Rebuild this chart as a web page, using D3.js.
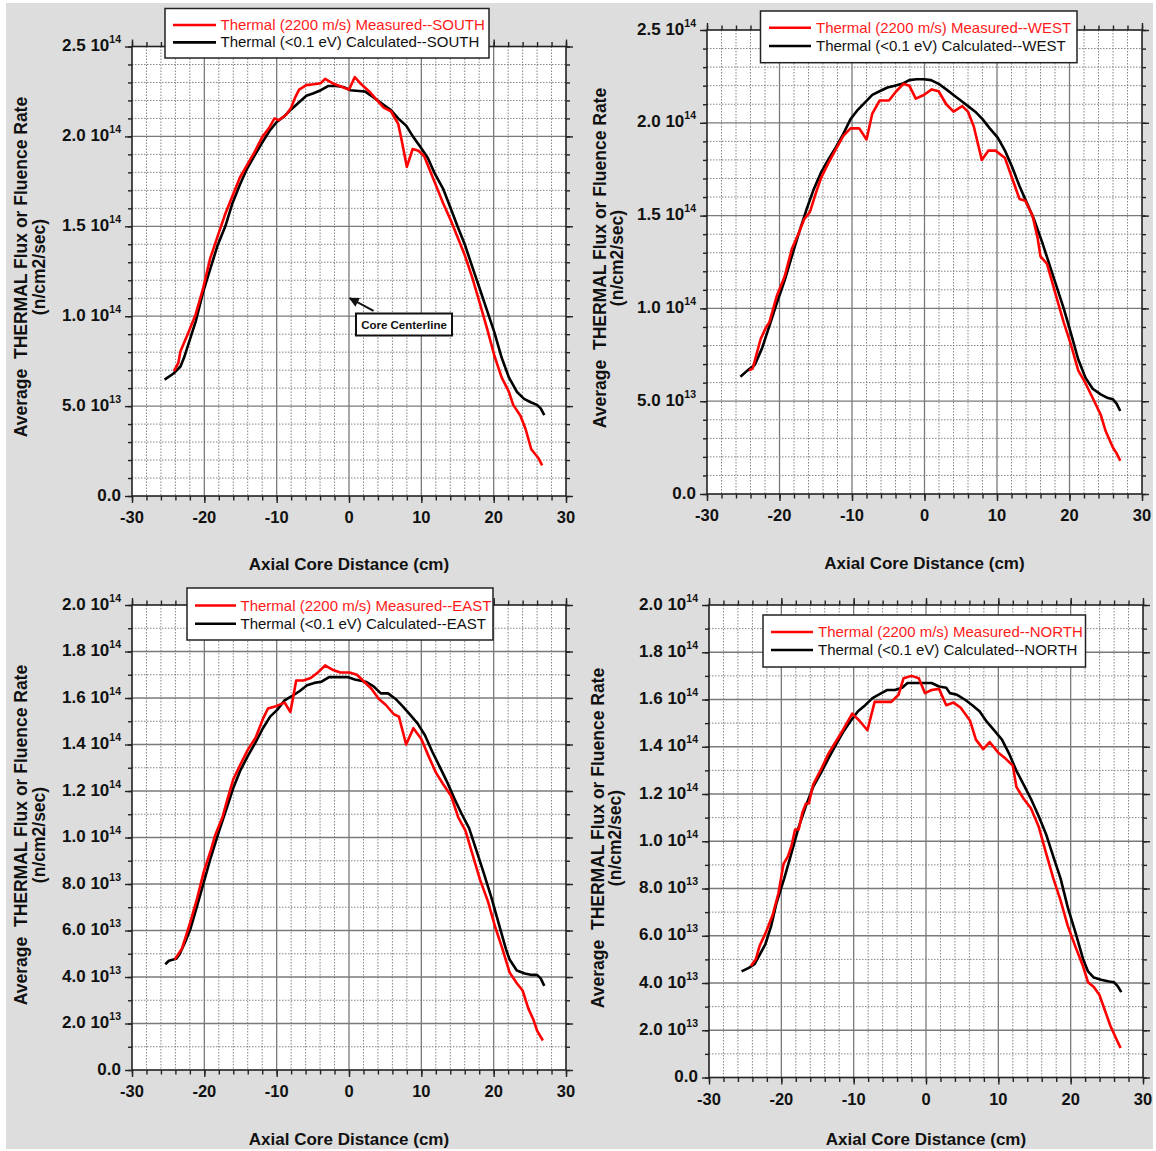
<!DOCTYPE html>
<html>
<head>
<meta charset="utf-8">
<script src="https://cdn.jsdelivr.net/npm/d3@7/dist/d3.min.js"></script>
<style>
  html, body { margin: 0; padding: 0; background: #ffffff; }
  svg { display: block; font-family: Arial, "Liberation Sans", sans-serif; }
</style>
</head>
<body>
<svg id="chart" width="1156" height="1151"></svg>
<script>
// ---------------- DATA (flux values in units of 1e13 n/cm2/sec) ----------------
const xMajorTicks = [-30, -20, -10, 0, 10, 20, 30];
const xMinorTicks = d3.range(-30, 31, 2);
const xTickLabels = ["-30", "-20", "-10", "0", "10", "20", "30"];

const yTicksTop = [0, 5, 10, 15, 20, 25];
const yMantTop = ["0.0", "5.0", "1.0", "1.5", "2.0", "2.5"];
const yExpTop = ["", "13", "14", "14", "14", "14"];

const yTicksBottom = [0, 2, 4, 6, 8, 10, 12, 14, 16, 18, 20];
const yMantBottom = ["0.0", "2.0", "4.0", "6.0", "8.0", "1.0", "1.2", "1.4", "1.6", "1.8", "2.0"];
const yExpBottom = ["", "13", "13", "13", "13", "14", "14", "14", "14", "14", "14"];

const legendMeasured = "Thermal (2200 m/s) Measured--";
const legendCalculated = "Thermal (<0.1 eV) Calculated--";
const panelNames = ["SOUTH", "WEST", "EAST", "NORTH"];

const southCalc = [[-25.5,6.47],[-24.3,6.8],[-23.3,7.2],[-22.8,7.7],[-22.0,8.7],[-21.2,9.7],[-20.2,11.3],[-19.2,12.6],[-18.2,13.9],[-17.1,15.0],[-16.1,16.3],[-15.1,17.3],[-14.1,18.2],[-13.1,18.9],[-12.0,19.65],[-11.0,20.3],[-10.0,20.8],[-9.0,21.1],[-8.0,21.5],[-6.9,21.9],[-5.9,22.26],[-4.9,22.4],[-3.9,22.57],[-2.9,22.8],[-1.8,22.8],[-0.8,22.75],[0.2,22.57],[2.2,22.5],[3.3,22.2],[4.3,21.9],[5.3,21.6],[5.8,21.46],[6.8,21.0],[7.9,20.6],[8.9,19.96],[9.9,19.4],[10.9,18.8],[11.9,17.9],[13.0,17.1],[14.0,16.06],[15.0,15.0],[16.0,14.0],[17.0,12.8],[18.1,11.5],[19.1,10.3],[20.1,9.1],[21.1,7.7],[22.1,6.6],[23.2,5.8],[24.2,5.4],[25.2,5.2],[26.0,5.07],[26.5,4.87],[27.0,4.5]];
const southMeas = [[-24.2,6.95],[-23.6,7.4],[-23.3,8.05],[-22.2,9.1],[-21.2,10.1],[-20.2,11.5],[-19.2,13.2],[-18.2,14.4],[-17.1,15.7],[-16.1,16.7],[-15.1,17.7],[-14.1,18.4],[-13.1,19.1],[-12.0,19.96],[-11.0,20.5],[-10.3,21.0],[-9.7,20.9],[-8.7,21.2],[-8.0,21.6],[-7.4,22.2],[-6.9,22.6],[-5.9,22.85],[-4.9,22.9],[-3.9,22.96],[-3.3,23.2],[-2.3,22.96],[-1.3,22.8],[0.0,22.6],[0.8,23.3],[1.7,22.9],[2.8,22.5],[3.8,22.05],[4.8,21.6],[5.8,21.4],[6.8,20.7],[7.3,19.75],[8.0,18.3],[8.8,19.3],[9.6,19.2],[10.4,18.9],[11.4,17.9],[12.4,16.9],[13.0,16.3],[14.0,15.4],[15.0,14.4],[16.0,13.4],[17.0,12.2],[18.1,10.7],[19.1,9.3],[20.1,7.8],[21.1,6.6],[22.1,5.8],[22.7,5.07],[23.7,4.46],[24.4,3.74],[25.2,2.6],[26.2,2.1],[26.7,1.7]];

const westCalc = [[-25.4,6.32],[-24.4,6.66],[-23.4,6.96],[-22.4,7.86],[-21.4,9.05],[-20.4,10.24],[-19.3,11.5],[-18.3,12.8],[-17.3,14.1],[-16.3,15.3],[-15.3,16.4],[-14.3,17.3],[-13.3,18.0],[-12.2,18.7],[-11.2,19.4],[-10.2,20.2],[-9.2,20.7],[-8.2,21.1],[-7.2,21.5],[-6.2,21.7],[-5.1,21.9],[-4.1,22.0],[-3.1,22.1],[-2.1,22.3],[-1.1,22.35],[-0.1,22.35],[0.9,22.3],[1.95,22.1],[3.0,21.8],[4.0,21.5],[5.0,21.2],[6.0,20.9],[7.0,20.6],[8.0,20.2],[9.0,19.7],[10.1,19.2],[11.1,18.5],[12.1,17.6],[13.1,16.6],[14.1,15.7],[15.1,14.8],[16.2,13.6],[17.2,12.4],[18.2,11.2],[19.2,10.0],[20.2,8.65],[21.2,7.26],[22.2,6.26],[23.2,5.67],[24.3,5.37],[25.3,5.17],[26.0,5.1],[26.5,4.87],[27.0,4.47]];
const westMeas = [[-24.2,6.66],[-23.7,6.76],[-22.6,8.35],[-21.9,8.95],[-21.4,9.25],[-20.4,10.64],[-19.3,11.7],[-18.3,13.2],[-17.3,14.1],[-16.6,14.8],[-15.8,15.2],[-15.0,16.2],[-14.3,17.0],[-13.3,17.8],[-12.2,18.6],[-11.2,19.3],[-10.2,19.7],[-9.0,19.7],[-8.0,19.1],[-7.2,20.5],[-6.2,21.2],[-4.9,21.2],[-3.9,21.7],[-2.9,22.1],[-2.1,22.0],[-1.2,21.3],[-0.1,21.5],[1.0,21.8],[1.95,21.7],[3.0,21.0],[4.0,20.6],[5.2,20.9],[6.0,20.6],[6.8,19.8],[7.9,18.0],[8.8,18.5],[9.8,18.5],[11.1,18.1],[12.1,17.0],[13.1,15.9],[13.9,15.8],[14.9,15.0],[15.6,13.8],[16.0,12.8],[16.9,12.4],[18.2,10.6],[19.2,9.25],[20.2,8.05],[21.2,6.66],[22.2,5.97],[23.2,5.17],[24.3,4.28],[25.0,3.38],[26.0,2.49],[26.5,2.19],[27.0,1.79]];

const eastCalc = [[-25.4,4.55],[-24.9,4.7],[-23.9,4.78],[-23.4,4.99],[-22.6,5.54],[-21.9,6.09],[-21.1,6.95],[-20.1,8.05],[-19.1,9.15],[-18.0,10.24],[-17.0,11.18],[-16.0,12.13],[-15.0,12.9],[-14.0,13.5],[-12.9,14.1],[-11.9,14.7],[-10.9,15.2],[-9.9,15.5],[-8.9,15.9],[-7.8,16.1],[-6.8,16.3],[-5.8,16.55],[-4.8,16.65],[-3.8,16.7],[-2.75,16.9],[-1.2,16.9],[-0.2,16.9],[0.8,16.8],[2.3,16.7],[3.4,16.5],[4.4,16.2],[5.4,16.2],[6.4,15.97],[7.4,15.65],[8.5,15.26],[9.5,14.9],[10.5,14.4],[11.5,13.7],[12.5,13.07],[13.6,12.36],[14.6,11.65],[15.6,11.0],[16.6,10.4],[17.6,9.46],[18.6,8.5],[19.7,7.4],[20.7,6.3],[21.7,5.2],[22.2,4.75],[23.2,4.28],[24.3,4.15],[25.3,4.09],[26.0,4.09],[26.5,3.94],[27.0,3.62]];
const eastMeas = [[-24.1,4.75],[-23.1,5.22],[-22.6,5.7],[-21.9,6.4],[-21.1,7.26],[-20.1,8.5],[-19.1,9.46],[-18.5,10.1],[-17.5,10.87],[-16.8,11.65],[-16.0,12.5],[-15.0,13.15],[-14.0,13.77],[-12.9,14.3],[-11.9,15.1],[-11.2,15.55],[-10.1,15.65],[-8.9,15.8],[-8.1,15.4],[-7.3,16.75],[-6.3,16.75],[-5.3,16.86],[-4.3,17.1],[-3.3,17.4],[-2.2,17.2],[-1.2,17.1],[0.05,17.1],[1.1,17.0],[2.1,16.7],[3.1,16.4],[4.1,15.97],[5.1,15.7],[6.2,15.3],[6.9,15.2],[7.9,14.0],[8.9,14.7],[10.0,14.24],[11.0,13.5],[12.0,12.8],[13.0,12.3],[14.1,11.8],[15.1,10.87],[16.1,10.3],[16.9,9.46],[18.1,8.2],[19.2,7.26],[20.2,6.16],[21.2,5.22],[22.2,4.2],[23.2,3.73],[24.0,3.42],[24.8,2.64],[25.5,2.16],[26.0,1.69],[26.8,1.27]];

const northCalc = [[-25.5,4.49],[-24.5,4.64],[-23.7,4.8],[-23.0,5.19],[-22.2,5.65],[-21.4,6.42],[-20.7,7.35],[-19.6,8.43],[-18.6,9.5],[-17.6,10.6],[-16.6,11.5],[-15.6,12.3],[-14.5,12.9],[-13.5,13.5],[-12.5,14.06],[-11.5,14.6],[-10.5,15.06],[-9.4,15.5],[-8.4,15.76],[-7.4,16.06],[-6.6,16.2],[-5.4,16.4],[-4.3,16.4],[-3.3,16.5],[-2.55,16.7],[-1.3,16.7],[-0.25,16.7],[0.77,16.7],[1.8,16.55],[2.8,16.5],[3.3,16.27],[4.3,16.2],[5.4,15.99],[6.4,15.76],[7.4,15.5],[8.4,15.06],[9.4,14.7],[10.5,14.3],[11.5,13.7],[12.5,12.98],[13.5,12.4],[14.5,11.8],[15.6,11.05],[16.6,10.3],[17.6,9.35],[18.6,8.43],[19.6,7.2],[20.7,6.1],[21.7,5.03],[22.4,4.49],[23.2,4.23],[24.2,4.14],[25.3,4.06],[26.0,4.03],[26.5,3.87],[27.0,3.61]];
const northMeas = [[-24.2,4.72],[-23.5,5.03],[-23.0,5.57],[-22.2,6.1],[-21.2,6.88],[-20.4,7.8],[-19.7,9.04],[-19.1,9.35],[-18.6,9.8],[-18.1,10.5],[-17.6,10.5],[-17.1,11.2],[-16.6,11.6],[-16.2,11.6],[-15.6,12.4],[-14.5,13.05],[-13.5,13.7],[-12.5,14.2],[-11.5,14.7],[-10.2,15.4],[-9.2,15.1],[-8.1,14.7],[-7.1,15.9],[-5.9,15.9],[-4.8,15.9],[-3.8,16.2],[-3.1,16.9],[-2.0,17.0],[-1.0,16.9],[-0.15,16.27],[0.77,16.4],[1.8,16.45],[2.8,15.76],[3.8,15.87],[4.8,15.65],[6.1,15.1],[6.9,14.3],[7.9,13.9],[8.8,14.2],[10.0,13.75],[11.0,13.5],[12.0,13.2],[12.5,12.3],[13.5,11.8],[14.5,11.4],[15.6,10.6],[16.6,9.5],[17.6,8.43],[18.6,7.5],[19.6,6.42],[20.7,5.5],[21.7,4.72],[22.4,4.03],[23.2,3.83],[23.98,3.49],[24.7,2.87],[25.5,2.18],[26.3,1.64],[26.9,1.25]];

// ---------------- LAYOUT ----------------
const panels = [
  { name: panelNames[0], calc: southCalc, meas: southMeas, L: 132, R: 566, T: 46.5, B: 496, xt: 570,
    yMax: 25, yTicks: yTicksTop, yMant: yMantTop, yExp: yExpTop,
    leg: { x: 165, y: 8.5, w: 324, h: 49.5, r1: 25, r2: 42.4, sx: 173, ex: 216, tx: 220.5 },
    ytitle: { b1: 27.3, b2: 44.5, cy: 267 } },
  { name: panelNames[1], calc: westCalc, meas: westMeas, L: 707, R: 1142, T: 30, B: 494, xt: 569,
    yMax: 25, yTicks: yTicksTop, yMant: yMantTop, yExp: yExpTop,
    leg: { x: 760.5, y: 11, w: 316.5, h: 51.7, r1: 27.7, r2: 46, sx: 769, ex: 811, tx: 816 },
    ytitle: { b1: 605.5, b2: 622.7, cy: 258 } },
  { name: panelNames[2], calc: eastCalc, meas: eastMeas, L: 132, R: 566, T: 605, B: 1070, xt: 1145,
    yMax: 20, yTicks: yTicksBottom, yMant: yMantBottom, yExp: yExpBottom,
    leg: { x: 187, y: 588, w: 306, h: 52, r1: 605.5, r2: 623.8, sx: 195, ex: 236, tx: 240.5 },
    ytitle: { b1: 27.3, b2: 44.5, cy: 835 } },
  { name: panelNames[3], calc: northCalc, meas: northMeas, L: 709, R: 1143, T: 605, B: 1077.5, xt: 1145,
    yMax: 20, yTicks: yTicksBottom, yMant: yMantBottom, yExp: yExpBottom,
    leg: { x: 763, y: 615, w: 322.5, h: 52, r1: 632, r2: 650, sx: 771, ex: 813, tx: 818 },
    ytitle: { b1: 603.8, b2: 621, cy: 838 } }
];

const svg = d3.select("#chart");
svg.append("rect").attr("x", 0).attr("y", 0).attr("width", 1156).attr("height", 1151).attr("fill", "#ffffff");
svg.append("rect").attr("x", 6).attr("y", 3).attr("width", 1147).attr("height", 1146).attr("fill", "#dcdddc");

svg.append("defs").append("marker")
  .attr("id", "arrowhead").attr("viewBox", "0 0 10 10").attr("refX", 9).attr("refY", 5)
  .attr("markerWidth", 5).attr("markerHeight", 5).attr("orient", "auto")
  .append("path").attr("d", "M0,0 L10,5 L0,10 z").attr("fill", "#111");

panels.forEach(p => {
  const g = svg.append("g");
  const x = d3.scaleLinear().domain([-30, 30]).range([p.L, p.R]);
  const y = d3.scaleLinear().domain([0, p.yMax]).range([p.B, p.T]);
  const yMinor = d3.range(0, p.yMax + 0.001, 1);

  // plot background
  g.append("rect").attr("x", p.L).attr("y", p.T).attr("width", p.R - p.L).attr("height", p.B - p.T).attr("fill", "#ffffff");

  // minor grid (dotted)
  g.append("g").selectAll("line").data(xMinorTicks.filter(v => v % 10 !== 0)).join("line")
    .attr("x1", d => x(d)).attr("x2", d => x(d)).attr("y1", p.T).attr("y2", p.B)
    .attr("stroke", "#858585").attr("stroke-width", 1).attr("stroke-dasharray", "1.5,1.5");
  g.append("g").selectAll("line").data(yMinor.filter(v => !p.yTicks.includes(v))).join("line")
    .attr("x1", p.L).attr("x2", p.R).attr("y1", d => y(d)).attr("y2", d => y(d))
    .attr("stroke", "#858585").attr("stroke-width", 1).attr("stroke-dasharray", "1.5,1.5");

  // major grid
  g.append("g").selectAll("line").data(xMajorTicks.slice(1, -1)).join("line")
    .attr("x1", d => x(d)).attr("x2", d => x(d)).attr("y1", p.T).attr("y2", p.B)
    .attr("stroke", "#7a7a7a").attr("stroke-width", 1.3);
  g.append("g").selectAll("line").data(p.yTicks.slice(1, -1)).join("line")
    .attr("x1", p.L).attr("x2", p.R).attr("y1", d => y(d)).attr("y2", d => y(d))
    .attr("stroke", "#7a7a7a").attr("stroke-width", 1.3);

  // axes (ticks outward on all four sides)
  const axStyle = sel => {
    sel.selectAll(".domain").remove();
    sel.selectAll("text").remove();
    sel.selectAll("line").attr("stroke", "#222").attr("stroke-width", 1.4);
  };
  g.append("g").attr("transform", `translate(0,${p.B})`)
    .call(d3.axisBottom(x).tickValues(xMinorTicks).tickSize(4.5).tickFormat("")).call(axStyle);
  g.append("g").attr("transform", `translate(0,${p.B})`)
    .call(d3.axisBottom(x).tickValues(xMajorTicks).tickSize(7).tickFormat("")).call(axStyle);
  g.append("g").attr("transform", `translate(0,${p.T})`)
    .call(d3.axisTop(x).tickValues(xMinorTicks).tickSize(4.5).tickFormat("")).call(axStyle);
  g.append("g").attr("transform", `translate(0,${p.T})`)
    .call(d3.axisTop(x).tickValues(xMajorTicks).tickSize(7).tickFormat("")).call(axStyle);
  g.append("g").attr("transform", `translate(${p.L},0)`)
    .call(d3.axisLeft(y).tickValues(yMinor).tickSize(4).tickFormat("")).call(axStyle);
  g.append("g").attr("transform", `translate(${p.L},0)`)
    .call(d3.axisLeft(y).tickValues(p.yTicks).tickSize(7).tickFormat("")).call(axStyle);
  g.append("g").attr("transform", `translate(${p.R},0)`)
    .call(d3.axisRight(y).tickValues(yMinor).tickSize(4).tickFormat("")).call(axStyle);
  g.append("g").attr("transform", `translate(${p.R},0)`)
    .call(d3.axisRight(y).tickValues(p.yTicks).tickSize(7).tickFormat("")).call(axStyle);

  // frame
  g.append("rect").attr("x", p.L).attr("y", p.T).attr("width", p.R - p.L).attr("height", p.B - p.T)
    .attr("fill", "none").attr("stroke", "#222").attr("stroke-width", 1.6);

  // data lines
  const line = d3.line().x(d => x(d[0])).y(d => y(d[1]));
  g.append("path").datum(p.calc).attr("d", line).attr("fill", "none")
    .attr("stroke", "#000").attr("stroke-width", 2.6).attr("stroke-linejoin", "round");
  g.append("path").datum(p.meas).attr("d", line).attr("fill", "none")
    .attr("stroke", "#ff0000").attr("stroke-width", 2.6).attr("stroke-linejoin", "round");

  // y tick labels
  const yl = g.append("g").selectAll("text").data(p.yTicks).join("text")
    .attr("x", p.L - 11).attr("y", d => y(d) + 4.5)
    .attr("text-anchor", "end").attr("font-size", 17).attr("font-weight", "bold").attr("fill", "#111");
  yl.each(function (d, i) {
    const t = d3.select(this);
    if (p.yExp[i] === "") { t.text(p.yMant[i]); return; }
    t.append("tspan").text(p.yMant[i] + " 10");
    t.append("tspan").attr("dy", -8).attr("font-size", 10.5).text(p.yExp[i]);
  });

  // x tick labels
  g.append("g").selectAll("text").data(xMajorTicks).join("text")
    .attr("x", d => x(d)).attr("y", p.B + 27)
    .attr("text-anchor", "middle").attr("font-size", 16.5).attr("font-weight", "bold").attr("fill", "#111")
    .text((d, i) => xTickLabels[i]);

  // x title
  g.append("text").attr("x", (p.L + p.R) / 2).attr("y", p.xt)
    .attr("text-anchor", "middle").attr("font-size", 17).attr("font-weight", "bold").attr("fill", "#111")
    .text("Axial Core Distance (cm)");

  // y title (two lines)
  g.append("text").attr("transform", `translate(${p.ytitle.b1},${p.ytitle.cy}) rotate(-90)`)
    .attr("text-anchor", "middle").attr("font-size", 17.5).attr("font-weight", "bold").attr("fill", "#111")
    .style("white-space", "pre").text("Average  THERMAL Flux or Fluence Rate");
  g.append("text").attr("transform", `translate(${p.ytitle.b2},${p.ytitle.cy}) rotate(-90)`)
    .attr("text-anchor", "middle").attr("font-size", 17.5).attr("font-weight", "bold").attr("fill", "#111")
    .text("(n/cm2/sec)");

  // legend
  const lg = p.leg;
  g.append("rect").attr("x", lg.x).attr("y", lg.y).attr("width", lg.w).attr("height", lg.h)
    .attr("fill", "#fff").attr("stroke", "#222").attr("stroke-width", 1.5);
  g.append("line").attr("x1", lg.sx).attr("x2", lg.ex).attr("y1", lg.r1).attr("y2", lg.r1)
    .attr("stroke", "#ff0000").attr("stroke-width", 2.6);
  g.append("line").attr("x1", lg.sx).attr("x2", lg.ex).attr("y1", lg.r2).attr("y2", lg.r2)
    .attr("stroke", "#000").attr("stroke-width", 2.6);
  g.append("text").attr("x", lg.tx).attr("y", lg.r1 + 5).attr("font-size", 15).attr("fill", "#ff1a1a")
    .text(legendMeasured + p.name);
  g.append("text").attr("x", lg.tx).attr("y", lg.r2 + 5).attr("font-size", 15).attr("fill", "#111")
    .text(legendCalculated + p.name);
});

// Core Centerline annotation (South panel)
const sx = d3.scaleLinear().domain([-30, 30]).range([panels[0].L, panels[0].R]);
const sy = d3.scaleLinear().domain([0, panels[0].yMax]).range([panels[0].B, panels[0].T]);
svg.append("rect").attr("x", 356).attr("y", 313.5).attr("width", 96).attr("height", 22)
  .attr("fill", "#fff").attr("stroke", "#111").attr("stroke-width", 2);
svg.append("text").attr("x", 404).attr("y", 328.5).attr("text-anchor", "middle")
  .attr("font-size", 11.5).attr("font-weight", "bold").attr("fill", "#111").text("Core Centerline");
svg.append("line").attr("x1", sx(3.4)).attr("y1", sy(10.3)).attr("x2", sx(0.1)).attr("y2", sy(11.0))
  .attr("stroke", "#111").attr("stroke-width", 2).attr("marker-end", "url(#arrowhead)");
</script>
</body>
</html>
